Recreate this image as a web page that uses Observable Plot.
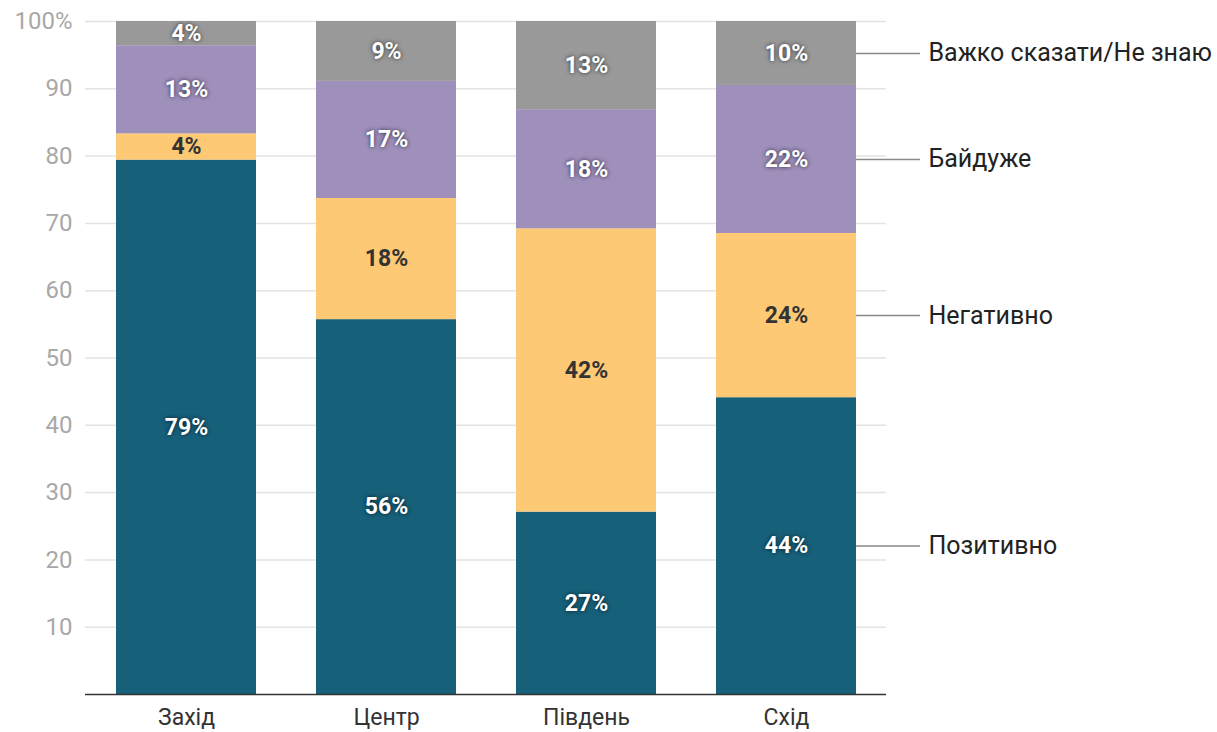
<!DOCTYPE html>
<html><head><meta charset="utf-8">
<script src="https://cdn.jsdelivr.net/npm/d3@7"></script>
<script src="https://cdn.jsdelivr.net/npm/@observablehq/plot@0.6"></script>
<style>
body{margin:0;background:#fff;font-family:Roboto,sans-serif;}
g[fill="white"] text{ text-shadow:0 0 4px rgba(0,0,0,0.7); }
</style></head><body>
<div id="chart"></div>
<script>
const regions = ["Захід","Центр","Південь","Схід"];
const answers = ["Позитивно","Негативно","Байдуже","Важко сказати/Не знаю"];
const colors = ["#17607a","#fdc975","#9e8fbb","#999999"];
const positive = [79.4,55.7,27.1,44.1];
const negative = [3.9,18.0,42.1,24.4];
const indifferent = [13.1,17.4,17.7,22.0];
const dontKnow = [3.6,8.9,13.1,9.5];
const yTicks = [10,20,30,40,50,60,70,80,90,100];

const series = [positive,negative,indifferent,dontKnow];
const data = [];
answers.forEach((a,i)=>regions.forEach((r,j)=>data.push({region:r,answer:a,value:series[i][j]})));
const lastRegion = regions[regions.length-1];
const legendData = data.filter(d=>d.region===lastRegion);
const darkLabel = "Негативно";

const chart = Plot.plot({
  width:1217, height:732,
  marginLeft:85, marginRight:331, marginTop:21, marginBottom:38,
  style:{fontFamily:"Roboto, sans-serif", background:"#fff", overflow:"visible"},
  x:{domain:regions, paddingInner:0.3, paddingOuter:0.15, label:null},
  y:{domain:[0,100], label:null},
  color:{domain:answers, range:colors},
  marks:[
    Plot.gridY(yTicks,{stroke:"#e3e3e3", strokeOpacity:1, strokeWidth:1.5}),
    Plot.axisY(yTicks,{tickSize:0, tickPadding:13, fontSize:24, fill:"#a8a8a8", label:null,
      tickFormat:d=>d===100?"100%":String(d)}),
    Plot.axisX({tickSize:0, tickPadding:14, fontSize:23, fill:"#333", label:null}),
    Plot.barY(data, Plot.stackY({x:"region", y:"value", z:"answer", fill:"answer", order:answers})),
    Plot.text(data, Plot.stackY({x:"region", y:"value", z:"answer", order:answers,
      text:d=>d.answer!==darkLabel?Math.round(d.value)+"%":"",
      fill:"white", fontSize:23, fontWeight:"bold"})),
    Plot.text(data, Plot.stackY({x:"region", y:"value", z:"answer", order:answers,
      text:d=>d.answer===darkLabel?Math.round(d.value)+"%":"",
      fill:"#333", fontSize:23, fontWeight:"bold"})),
    Plot.tickY(legendData, Plot.stackY({x:"region", y:"value", z:"answer", order:answers,
      stroke:"#8a8a8a", strokeWidth:1.5, dx:140, insetRight:76})),
    Plot.text(legendData, Plot.stackY({x:"region", y:"value", z:"answer", order:answers,
      text:"answer", textAnchor:"start", dx:142, fontSize:25, fill:"#222"})),
    Plot.ruleY([0],{stroke:"#333", strokeWidth:1.5})
  ]
});
document.getElementById("chart").appendChild(chart);
</script></body></html>
